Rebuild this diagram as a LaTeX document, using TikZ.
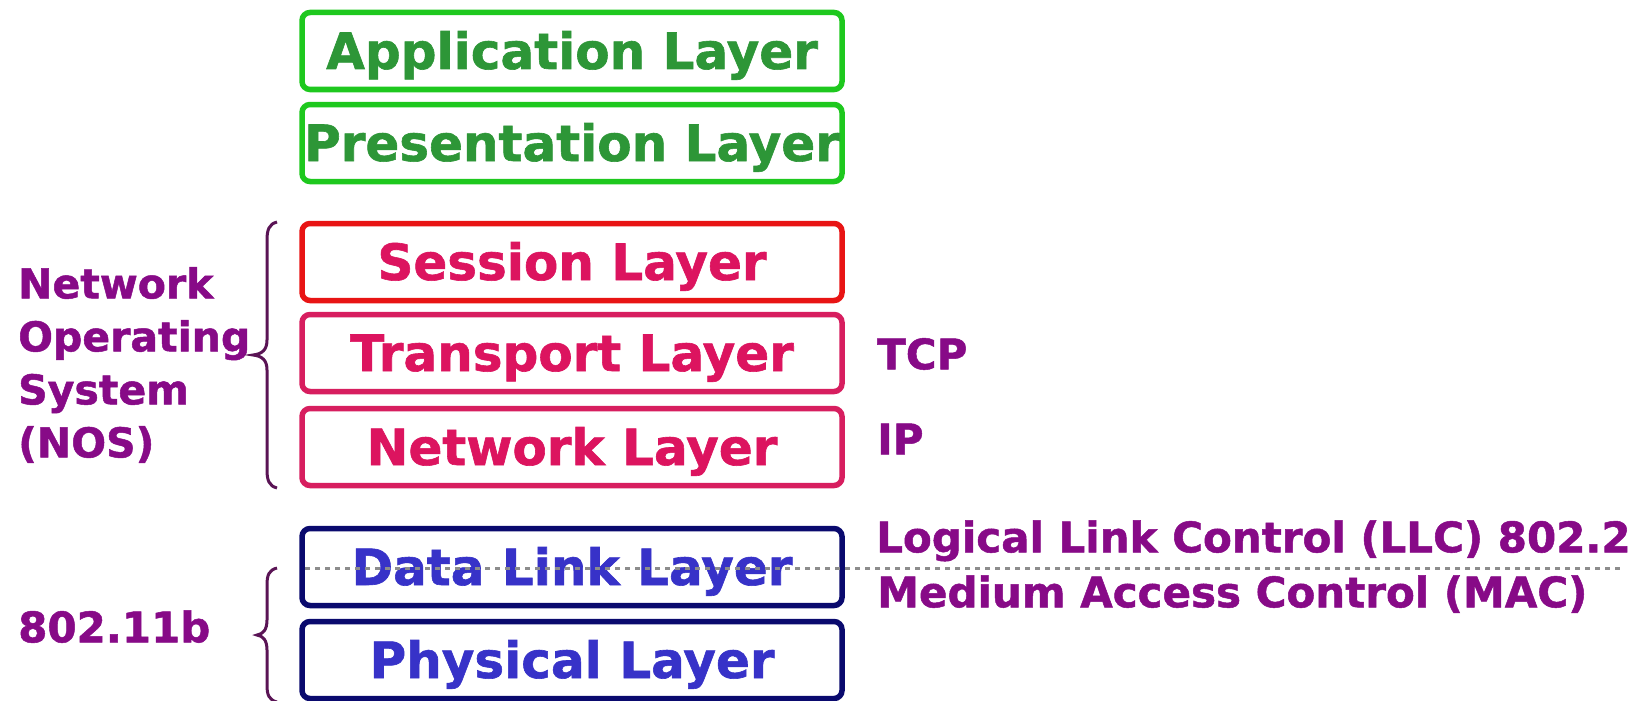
\documentclass[tikz,border=0pt]{standalone}
\usepackage{fontspec}
\setmainfont{DejaVu Sans}[BoldFeatures={FakeBold=1.2}]
\definecolor{grnline}{RGB}{30,200,30}
\definecolor{grntext}{RGB}{45,150,55}
\definecolor{redline}{RGB}{232,20,20}
\definecolor{crimline}{RGB}{215,30,95}
\definecolor{crimtext}{RGB}{220,20,95}
\definecolor{navyline}{RGB}{10,10,110}
\definecolor{bluetext}{RGB}{55,50,200}
\definecolor{labpurple}{RGB}{135,10,135}
\definecolor{bracecol}{RGB}{90,20,85}
\definecolor{dotgrey}{RGB}{140,140,140}
\begin{document}
\begin{tikzpicture}[x=1pt,y=-1pt,
  layer/.style={draw, line width=5.5pt, rounded corners=8pt, minimum width=540pt,
    minimum height=77pt, inner sep=0pt, fill=white,
    font=\fontsize{50}{60}\selectfont\bfseries, text height=36pt, text depth=0pt},
  greenlayer/.style={layer, draw=grnline, text=grntext},
  redlayer/.style={layer, draw=redline, text=crimtext},
  crimlayer/.style={layer, draw=crimline, text=crimtext},
  bluelayer/.style={layer, draw=navyline, text=bluetext},
  sidelabel/.style={font=\fontsize{42}{53}\selectfont\bfseries, text=labpurple,
    inner sep=0pt, anchor=west, text height=30.5pt, text depth=0pt},
  bracestyle/.style={draw=bracecol, line width=3pt},
  dotline/.style={draw=dotgrey, line width=3pt, dash pattern=on 5pt off 5pt},
]
\useasboundingbox (0,0) rectangle (1647,701);

% layer boxes
\node[greenlayer] (app)   at (572,51)  {Application Layer};
\node[greenlayer] (pres)  at (572,143) {Presentation Layer};
\node[redlayer]   (sess)  at (572,262) {Session Layer};
\node[crimlayer]  (trans) at (572,353) {Transport Layer};
\node[crimlayer]  (net)   at (572,447) {Network Layer};
\node[bluelayer]  (dl)    at (572,567) {Data Link Layer};
\node[bluelayer]  (phys)  at (572,660) {Physical Layer};

% side labels
\node[sidelabel] (tcp) at (877,354) {TCP};
\node[sidelabel] (ip)  at (877,439) {IP};
\node[sidelabel] (llc) at (876,537) {Logical Link Control (LLC) 802.2};
\node[sidelabel] (mac) at (877,592) {Medium Access Control (MAC)};
\node[sidelabel] (wifi) at (18,627) {802.11b};
\node[font=\fontsize{41}{53}\selectfont\bfseries, text=labpurple, inner sep=0pt,
      anchor=north west, align=left] (nos) at (18,267)
      {Network\\Operating\\System\\(NOS)};

% braces
\draw[bracestyle] (277,222) .. controls (269,224) and (267,230) .. (267,240)
  -- (267,340) .. controls (267,350) and (262,354) .. (253,355)
  .. controls (262,356) and (267,360) .. (267,370)
  -- (267,470) .. controls (267,480) and (269,486) .. (277,488);
\draw[bracestyle] (277,568) .. controls (269,570) and (267,575) .. (267,585)
  -- (267,620) .. controls (267,630) and (263,634) .. (257,635)
  .. controls (263,636) and (267,640) .. (267,650)
  -- (267,685) .. controls (267,695) and (269,700) .. (277,702);

% dotted separation line
\coordinate (dotstart) at (305,568);
\coordinate (dotend) at (1620,568);
\draw[dotline] (dotstart) -- (dotend);
\end{tikzpicture}
\end{document}
